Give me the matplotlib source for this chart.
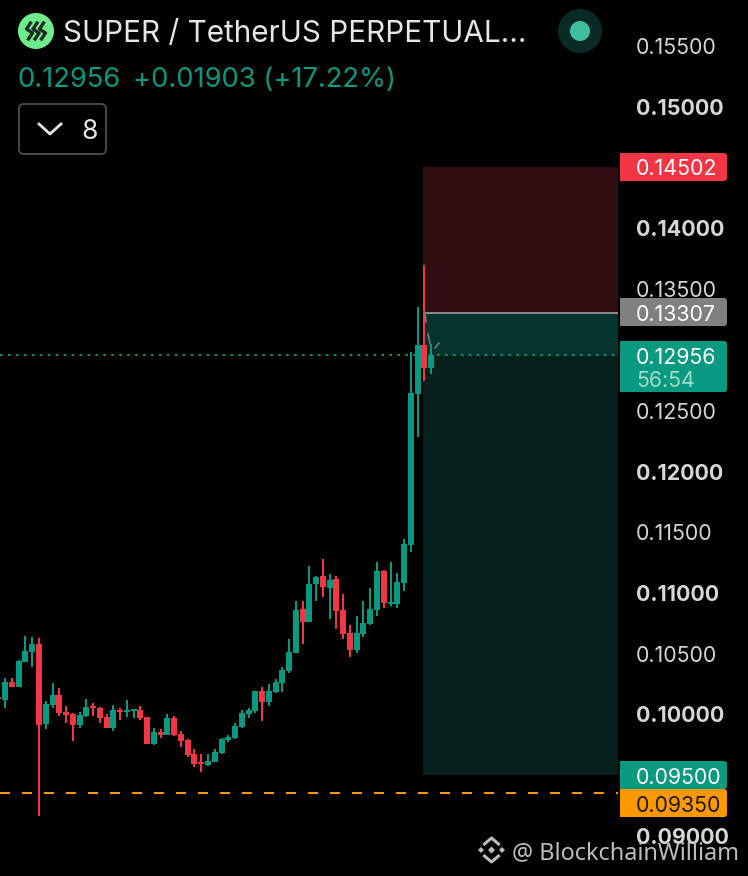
import numpy as np
import matplotlib
matplotlib.use("Agg")
import matplotlib.pyplot as plt
from matplotlib.patches import Circle, FancyBboxPatch, Polygon, Rectangle

plt.rcParams['font.family'] = ['Inter', 'DejaVu Sans']

# candles, oldest first
opens = [0.10144, 0.10120, 0.10268, 0.10227, 0.10432, 0.10515, 0.10581, 0.09922, 0.10079, 0.10161,
         0.10021, 0.10004, 0.09914, 0.09988, 0.10070, 0.10054, 0.09979, 0.09889, 0.10037, 0.10021,
         0.10029, 0.10037, 0.09979, 0.09758, 0.09856, 0.09832, 0.09971, 0.09840, 0.09790, 0.09675,
         0.09609, 0.09585, 0.09609, 0.09683, 0.09790, 0.09807, 0.09897, 0.10004, 0.10029, 0.10194,
         0.10103, 0.10185, 0.10260, 0.10358, 0.10507, 0.10869, 0.10762, 0.11074, 0.11140, 0.11041,
         0.11115, 0.10860, 0.10671, 0.10531, 0.10663, 0.10745, 0.10860, 0.11181, 0.10910, 0.10910,
         0.11082, 0.11395, 0.12638, 0.13041, 0.12852]
highs = [0.10144, 0.10301, 0.10301, 0.10449, 0.10646, 0.10638, 0.10630, 0.10111, 0.10260, 0.10218,
         0.10070, 0.10013, 0.10021, 0.10128, 0.10095, 0.10062, 0.10004, 0.10079, 0.10054, 0.10120,
         0.10046, 0.10070, 0.09979, 0.09889, 0.09881, 0.10004, 0.09988, 0.09865, 0.09799, 0.09716,
         0.09675, 0.09675, 0.09716, 0.09807, 0.09832, 0.09930, 0.10037, 0.10054, 0.10194, 0.10227,
         0.10251, 0.10293, 0.10391, 0.10622, 0.10934, 0.10934, 0.11222, 0.11140, 0.11280, 0.11157,
         0.11140, 0.10992, 0.10737, 0.10811, 0.10934, 0.11041, 0.11255, 0.11189, 0.11255, 0.11165,
         0.11445, 0.12984, 0.13354, 0.13700, 0.13049]
lows = [0.10128, 0.10054, 0.10227, 0.10227, 0.10432, 0.10391, 0.09165, 0.09881, 0.10054, 0.09988,
        0.09930, 0.09782, 0.09889, 0.09979, 0.09988, 0.09930, 0.09889, 0.09865, 0.09955, 0.09979,
        0.09971, 0.09955, 0.09758, 0.09749, 0.09807, 0.09832, 0.09823, 0.09733, 0.09650, 0.09568,
        0.09527, 0.09577, 0.09609, 0.09675, 0.09774, 0.09799, 0.09889, 0.09971, 0.10013, 0.09947,
        0.10070, 0.10177, 0.10185, 0.10342, 0.10507, 0.10581, 0.10762, 0.10934, 0.10967, 0.10786,
        0.10704, 0.10622, 0.10474, 0.10507, 0.10638, 0.10737, 0.10811, 0.10877, 0.10893, 0.10877,
        0.11017, 0.11338, 0.12284, 0.12745, 0.12803]
closes = [0.10128, 0.10268, 0.10227, 0.10440, 0.10523, 0.10581, 0.09914, 0.10087, 0.10161, 0.10013,
          0.09996, 0.09914, 0.09996, 0.10062, 0.10054, 0.09971, 0.09889, 0.10037, 0.10021, 0.10037,
          0.10046, 0.09971, 0.09758, 0.09856, 0.09832, 0.09971, 0.09832, 0.09782, 0.09667, 0.09593,
          0.09593, 0.09618, 0.09692, 0.09799, 0.09815, 0.09906, 0.10013, 0.10037, 0.10194, 0.10103,
          0.10194, 0.10268, 0.10366, 0.10515, 0.10860, 0.10762, 0.11074, 0.11132, 0.11049, 0.11107,
          0.10852, 0.10663, 0.10531, 0.10671, 0.10753, 0.10869, 0.11181, 0.10918, 0.10926, 0.11091,
          0.11403, 0.12646, 0.13041, 0.12852, 0.12956]

# price levels
stop_price = 0.14502
entry_price = 0.13307
last_price = 0.12956
target_price = 0.09500
alert_price = 0.09350

tick_prices = [0.155, 0.15, 0.14, 0.135, 0.125, 0.12, 0.115, 0.11, 0.105, 0.10, 0.09]
tick_labels = ['0.15500', '0.15000', '0.14000', '0.13500', '0.12500', '0.12000',
               '0.11500', '0.11000', '0.10500', '0.10000', '0.09000']

GREEN = '#089981'
RED = '#f23645'
W, H = 748, 876
LABEL_SIZE = 15.4

fig = plt.figure(figsize=(W / 100, H / 100), dpi=100, facecolor='black')
ax = fig.add_axes([0, 0, 1, 1])
ax.set_facecolor('black')

step = 6.76  # pixels per candle
x = np.arange(len(opens))
o = np.array(opens)
c = np.array(closes)
colors = [GREEN if c[i] >= o[i] else RED for i in x]

ax.set_xlim(1.56 / step, (W + 1.56) / step)
ax.set_ylim(0.15 - (H - 107) / 12150, 0.15 + 107 / 12150)

# long/short tool, drawn behind the candles
zone_l, zone_r = 423 / W, 618 / W
ax.axhspan(entry_price, stop_price + 0.00007, zone_l, zone_r, color='#300d11', lw=0, zorder=1)
ax.axhspan(last_price, entry_price, zone_l, zone_r, color='#05332d', lw=0, zorder=1)
ax.axhspan(target_price, last_price, zone_l, zone_r, color='#04201b', lw=0, zorder=1)
ax.plot([423 / W, 618 / W], [entry_price, entry_price], color='#8a8a8a', lw=1.44,
        transform=ax.get_yaxis_transform(), solid_capstyle='butt', zorder=2)

ax.plot([0, 618 / W], [last_price, last_price], color=GREEN, lw=1.3, ls=(0, (1.5, 2.9)),
        transform=ax.get_yaxis_transform(), zorder=2)
ax.plot([0, 618 / W], [alert_price, alert_price], color='#ff9800', lw=1.44, ls=(0, (5, 6)),
        transform=ax.get_yaxis_transform(), zorder=2)

ax.vlines(x, lows, highs, colors=colors, linewidth=1.44, zorder=3)
ax.bar(x, np.abs(c - o), bottom=np.minimum(o, c), width=6 / step, color=colors, linewidth=0, zorder=4)

ax.yaxis.tick_right()
ax.set_yticks(tick_prices)
ax.set_yticklabels(tick_labels)
ax.set_xticks([])
ax.tick_params(axis='y', length=0, pad=-80.6, labelsize=LABEL_SIZE, labelcolor='#d6d6d6')
for lab, p in zip(ax.get_yticklabels(), tick_prices):
    if round(p * 1000) % 10 == 0:
        lab.set_fontweight('bold')
for s in ax.spines.values():
    s.set_visible(False)

# everything around the chart, in pixel coordinates
ui = fig.add_axes([0, 0, 1, 1], zorder=5)
ui.set_xlim(0, W)
ui.set_ylim(H, 0)
ui.axis('off')

# small grey marks from the drawing tool
for xs, ys in [((425, 426), (313, 322)), ((428, 430), (334, 343)), ((435, 439), (348, 343))]:
    ui.plot(xs, ys, color='#777777', lw=1.2)

# header
ui.add_patch(Circle((36, 31), 18, color='#6fec8c', lw=0))
for x0 in (29.5, 36, 42.5):
    ui.plot([x0 + 1, x0 - 3, x0 + 3, x0 - 1], [23, 29, 33, 39], color='#1c2b22', lw=2.4)
ui.text(63, 31, 'SUPER / TetherUS PERPETUAL...', color='#e6e6e6', fontsize=21.4, va='center_baseline')
ui.text(17, 77, '0.12956', color=GREEN, fontsize=19.7, va='center_baseline')
ui.text(133, 77, '+0.01903 (+17.22%)', color=GREEN, fontsize=19.7, va='center_baseline')
ui.add_patch(FancyBboxPatch((19, 104), 87, 50, boxstyle='round,pad=0,rounding_size=5',
                            fc='none', ec='#484848', lw=1.4))
ui.plot([39, 50, 61], [124, 134, 124], color='#e6e6e6', lw=2)
ui.text(81, 129, '8', color='#e6e6e6', fontsize=19, va='center_baseline')
ui.add_patch(Circle((580, 31), 22, color='#0a2a25', lw=0))
ui.add_patch(Circle((580, 31), 10, color='#3fbf9f', lw=0))


def price_box(y0, y1, color):
    ui.add_patch(FancyBboxPatch((620, y0), 107, y1 - y0, boxstyle='round,pad=0,rounding_size=3',
                                fc=color, ec='none'))
    ui.add_patch(Rectangle((620, y0), 10, y1 - y0, fc=color, ec='none'))


price_box(153, 181, RED)
ui.text(636, 167, '0.14502', color='white', fontsize=LABEL_SIZE, va='center_baseline')
price_box(298, 326, '#808080')
ui.text(636, 313, '0.13307', color='white', fontsize=LABEL_SIZE, va='center_baseline')
price_box(341, 392, GREEN)
ui.text(636, 356, '0.12956', color='white', fontsize=LABEL_SIZE, va='center_baseline')
ui.text(636, 379, '56:54', color='#9edccf', fontsize=LABEL_SIZE, va='center_baseline')
price_box(761, 789, GREEN)
ui.text(636, 776, '0.09500', color='white', fontsize=LABEL_SIZE, va='center_baseline')
price_box(789, 817, '#ff9800')
ui.text(636, 804, '0.09350', color='#1a1a1a', fontsize=LABEL_SIZE, va='center_baseline')

# watermark
wm = '#bdbdbd'
cx, cy = 491.5, 850
for dx, dy in [(-10.5, 0), (10.5, 0)]:
    ui.add_patch(Polygon([(cx + dx - 3, cy + dy), (cx + dx, cy + dy - 3), (cx + dx + 3, cy + dy),
                          (cx + dx, cy + dy + 3)], color=wm, lw=0))
ui.add_patch(Polygon([(cx - 3.5, cy), (cx, cy - 3.5), (cx + 3.5, cy), (cx, cy + 3.5)], color=wm, lw=0))
ui.plot([cx - 7, cx, cx + 7], [cy - 6, cy - 12, cy - 6], color=wm, lw=2.2)
ui.plot([cx - 7, cx, cx + 7], [cy + 6, cy + 12, cy + 6], color=wm, lw=2.2)
ui.text(512, 850, '@ BlockchainWilliam', color=wm, fontsize=16.9, va='center_baseline',
        family=['Noto Sans', 'DejaVu Sans'])

fig.savefig('out.png', dpi=100, facecolor='black')
